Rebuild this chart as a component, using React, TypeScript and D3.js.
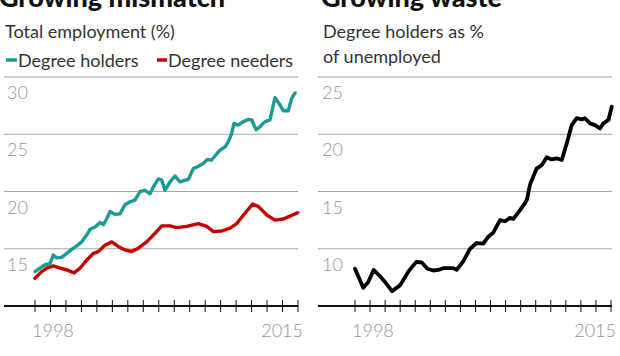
import React from "react";
import * as d3 from "d3";

// ---- Data ----
const holdersYears = [1998.0, 1998.32, 1998.65, 1998.97, 1999.18, 1999.4, 1999.73, 2000.05, 2000.37, 2000.7, 2001.02, 2001.34, 2001.56, 2001.88, 2002.2, 2002.42, 2002.63, 2002.85, 2003.17, 2003.49, 2003.82, 2004.14, 2004.46, 2004.79, 2005.11, 2005.43, 2005.65, 2005.97, 2006.19, 2006.4, 2006.73, 2007.05, 2007.37, 2007.7, 2007.91, 2008.23, 2008.56, 2008.88, 2009.14, 2009.42, 2009.75, 2009.96, 2010.29, 2010.5, 2010.72, 2010.86, 2011.14, 2011.46, 2011.79, 2012.01, 2012.29, 2012.54, 2012.87, 2013.19, 2013.51, 2013.84, 2014.05, 2014.37, 2014.59, 2014.81];
const holdersValues = [13.0, 13.3, 13.6, 13.7, 14.45, 14.2, 14.25, 14.6, 14.95, 15.25, 15.6, 16.2, 16.7, 16.9, 17.3, 17.1, 17.6, 18.25, 18.0, 18.05, 18.85, 19.1, 19.25, 20.0, 20.1, 19.8, 20.4, 21.1, 21.0, 20.1, 20.85, 21.35, 20.85, 21.0, 21.05, 22.0, 22.2, 22.45, 22.8, 22.75, 23.3, 23.6, 23.9, 24.35, 25.1, 25.95, 25.8, 26.1, 26.3, 26.25, 25.4, 25.65, 26.1, 26.25, 28.2, 27.55, 27.05, 27.05, 28.15, 28.6];

const needersYears = [1998.0, 1998.43, 1998.76, 1999.18, 1999.62, 2000.05, 2000.52, 2000.91, 2001.34, 2001.77, 2002.09, 2002.52, 2002.96, 2003.38, 2003.82, 2004.25, 2004.68, 2005.22, 2005.76, 2006.19, 2006.73, 2007.16, 2007.81, 2008.56, 2009.1, 2009.53, 2010.07, 2010.61, 2011.04, 2011.57, 2012.07, 2012.43, 2012.98, 2013.51, 2014.05, 2014.48, 2014.98];
const needersValues = [12.42, 13.0, 13.3, 13.5, 13.3, 13.15, 12.9, 13.3, 14.0, 14.6, 14.75, 15.3, 15.6, 15.2, 14.9, 14.75, 15.05, 15.6, 16.35, 17.0, 17.0, 16.85, 16.95, 17.2, 16.95, 16.5, 16.55, 16.8, 17.2, 18.1, 18.9, 18.7, 17.95, 17.5, 17.6, 17.85, 18.15];

const wasteYears = [1998.0, 1998.55, 1998.88, 1999.24, 1999.66, 1999.99, 2000.46, 2000.99, 2001.54, 2002.07, 2002.43, 2002.81, 2003.2, 2003.53, 2003.86, 2004.53, 2004.75, 2005.19, 2005.64, 2006.08, 2006.52, 2006.85, 2007.18, 2007.63, 2007.96, 2008.29, 2008.51, 2008.84, 2009.22, 2009.42, 2009.62, 2010.06, 2010.4, 2010.73, 2011.06, 2011.39, 2011.73, 2012.06, 2012.39, 2012.72, 2013.05, 2013.27, 2013.61, 2013.94, 2014.27, 2014.49, 2014.83, 2015.05];
const wasteValues = [8.25, 6.6, 7.1, 8.15, 7.6, 7.1, 6.3, 6.8, 8.0, 8.85, 8.8, 8.25, 8.1, 8.15, 8.3, 8.3, 8.15, 8.9, 10.0, 10.5, 10.45, 11.05, 11.4, 12.5, 12.4, 12.7, 12.6, 13.15, 13.85, 14.3, 15.6, 17.0, 17.3, 18.0, 17.8, 17.9, 17.75, 19.2, 20.8, 21.4, 21.3, 21.4, 20.95, 20.8, 20.5, 20.95, 21.25, 22.4];

const leftTicks = [15, 20, 25, 30];
const rightTicks = [10, 15, 20, 25];
const yearTicks = d3.range(1998, 2016);
const yearLabels = ["1998", "2015"];

const leftTitle = "Growing mismatch";
const rightTitle = "Growing waste";
const leftSubtitle = "Total employment (%)";
const rightSubtitle = ["Degree holders as %", "of unemployed"];
const legendLabels = ["Degree holders", "Degree needers"];

const TEAL = "#1c9a93";
const RED = "#c70000";
const GRID = "#a8a8a8";
const LABEL = "#959595";
const FONT = "Lato, 'Noto Sans', sans-serif";

type PanelProps = {
  x0: number; x1: number; axisX0: number; axisX1: number;
  yMin: number; yMax: number; ticks: number[]; labelX: number;
  series: { years: number[]; values: number[]; color: string; width: number }[];
};

function Panel({ x0, x1, axisX0, axisX1, yMin, yMax, ticks, labelX, series }: PanelProps) {
  const x = d3.scaleLinear().domain([1998, 2015]).range([x0, x1]);
  const y = d3.scaleLinear().domain([yMin, yMax]).range([306, 77]);
  const line = d3.line<[number, number]>().x((d) => x(d[0])).y((d) => y(d[1]));
  return (
    <g>
      {ticks.map((t) => (
        <g key={t}>
          <line x1={axisX0} x2={axisX1} y1={y(t)} y2={y(t)} stroke={GRID} strokeWidth={1.2} />
          <text x={labelX} y={y(t) + 22} textAnchor="end" fill={LABEL} fontSize={18} fontWeight={300} fontFamily={FONT}>{t}</text>
        </g>
      ))}
      {series.map((s, i) => (
        <path key={i} d={line(s.years.map((yr, j) => [yr, s.values[j]] as [number, number])) || ""} fill="none" stroke={s.color} strokeWidth={s.width} strokeLinejoin="round" strokeLinecap="round" />
      ))}
      <line x1={axisX0} x2={axisX1} y1={y(yMin)} y2={y(yMin)} stroke="#111" strokeWidth={2} />
      {yearTicks.map((t) => (
        <line key={t} x1={x(t)} x2={x(t)} y1={y(yMin) - 6} y2={y(yMin) + 6} stroke="#111" strokeWidth={1} />
      ))}
      <text x={x(1998) - 3} y={337} textAnchor="start" fill={LABEL} fontSize={18} fontWeight={300} fontFamily={FONT}>{yearLabels[0]}</text>
      <text x={x(2015) + 5} y={337} textAnchor="end" fill={LABEL} fontSize={18} fontWeight={300} fontFamily={FONT}>{yearLabels[1]}</text>
    </g>
  );
}

export default function App() {
  return (
    <svg width={620} height={356} style={{ position: "absolute", left: 0, top: 0, background: "#fff" }}>
      <text x={-1} y={7} fontSize={27} fontWeight={900} fontFamily={FONT} fill="#111">{leftTitle}</text>
      <text x={321} y={7} fontSize={27} fontWeight={900} fontFamily={FONT} fill="#111">{rightTitle}</text>

      <text x={5} y={38} fontSize={18} fontFamily={FONT} fill="#333">{leftSubtitle}</text>
      <line x1={6} x2={17} y1={60} y2={60} stroke={TEAL} strokeWidth={3.5} />
      <text x={18} y={67} fontSize={18} fontFamily={FONT} fill="#333">{legendLabels[0]}</text>
      <line x1={157} x2={167} y1={60} y2={60} stroke={RED} strokeWidth={3.5} />
      <text x={168} y={67} fontSize={18} fontFamily={FONT} fill="#333">{legendLabels[1]}</text>

      <text x={323} y={38} fontSize={18} fontFamily={FONT} fill="#333">{rightSubtitle[0]}</text>
      <text x={323} y={63} fontSize={18} fontFamily={FONT} fill="#333">{rightSubtitle[1]}</text>

      <Panel x0={35} x1={298} axisX0={4} axisX1={298} yMin={10} yMax={30} ticks={leftTicks} labelX={28}
        series={[
          { years: needersYears, values: needersValues, color: RED, width: 3.4 },
          { years: holdersYears, values: holdersValues, color: TEAL, width: 3.4 },
        ]} />
      <Panel x0={355} x1={611} axisX0={318} axisX1={612} yMin={5} yMax={25} ticks={rightTicks} labelX={343}
        series={[{ years: wasteYears, values: wasteValues, color: "#000", width: 3.8 }]} />
    </svg>
  );
}
